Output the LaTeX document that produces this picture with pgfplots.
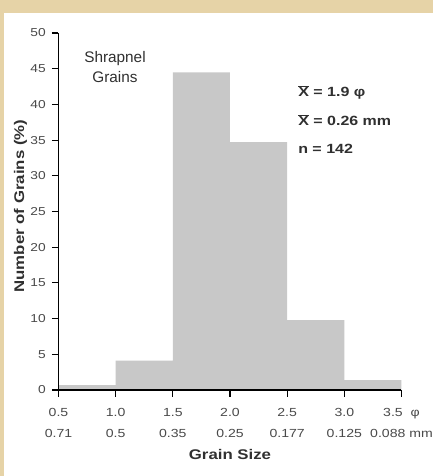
\documentclass[border=0pt]{standalone}
\usepackage{fontspec}
\setmainfont{Liberation Sans}[FakeStretch=1.2]
\newfontfamily\plainfont{Liberation Sans}
\usepackage{pgfplots}
\pgfplotsset{compat=1.18}
\definecolor{tanbg}{HTML}{E6D3A7}
\definecolor{barg}{HTML}{C8C8C8}
\definecolor{tickg}{HTML}{4A4A4A}
\definecolor{labg}{HTML}{303030}
\begin{document}
\begin{tikzpicture}
\useasboundingbox (0,0) rectangle (324.75pt,357pt);
\clip (0,0) rectangle (324.75pt,357pt);
\fill[tanbg] (0,0) rectangle (324.75pt,357pt);
\fill[white] (3pt,0) rectangle (324.75pt,347.25pt);
\begin{axis}[at={(43.875pt,64.5pt)}, anchor=south west, scale only axis,
  width=257.25pt, height=267.75pt,
  xmin=0.5, xmax=3.5, ymin=0, ymax=50,
  axis lines=left, axis line style={-, line width=0.9pt, black},
  axis on top,
  tick align=outside, major tick length=5pt,
  tick style={black, line width=0.8pt},
  ytick={0,5,...,50},
  xtick={0.5,1,1.5,2,2.5,3,3.5},
  xticklabels={{0.5\\0.71},{1.0\\0.5},{1.5\\0.35},{2.0\\0.25},{2.5\\0.177},{3.0\\0.125},{3.5 \ φ\\0.088 mm}},
  /pgf/number format/assume math mode=true,
  yticklabel style={font=\fontsize{8.6}{10}\selectfont, text=tickg, xshift=-1pt},
  xticklabel style={font=\fontsize{8.8}{15.75}\selectfont, text=tickg, align=center, yshift=-5pt},
  ylabel={Number of Grains (\%)},
  ylabel style={at={(axis description cs:-0.111,0.515)}, anchor=center, font=\bfseries\fontsize{10.5}{12}\selectfont, text=labg},
  xlabel={Grain Size},
  xlabel style={at={(axis description cs:0.5,-0.181)}, anchor=center, font=\bfseries\fontsize{10.5}{12}\selectfont, text=labg},
]
\addplot[fill=barg, draw=none, const plot] coordinates {(0.5,0.7)(1.0,4.1)(1.5,44.5)(2.0,34.7)(2.5,9.8)(3.0,1.4)(3.5,1.4)} \closedcycle;
\end{axis}
\begin{scope}[x=0.75pt,y=0.75pt]
\node[anchor=base, inner sep=0, font=\plainfont\fontsize{11.5}{13}\selectfont, text=labg] at (115,413) {Shrapnel};
\node[anchor=base, inner sep=0, font=\plainfont\fontsize{11.5}{13}\selectfont, text=labg] at (115,393) {Grains};
\node[anchor=base west, inner sep=0, font=\bfseries\fontsize{10}{12}\selectfont, text=labg] at (298,379) {$\overline{\hbox{X}}$ = 1.9 φ};
\node[anchor=base west, inner sep=0, font=\bfseries\fontsize{10}{12}\selectfont, text=labg] at (298,350) {$\overline{\hbox{X}}$ = 0.26 mm};
\node[anchor=base west, inner sep=0, font=\bfseries\fontsize{10}{12}\selectfont, text=labg] at (298,322) {n = 142};
\end{scope}
\end{tikzpicture}
\end{document}
